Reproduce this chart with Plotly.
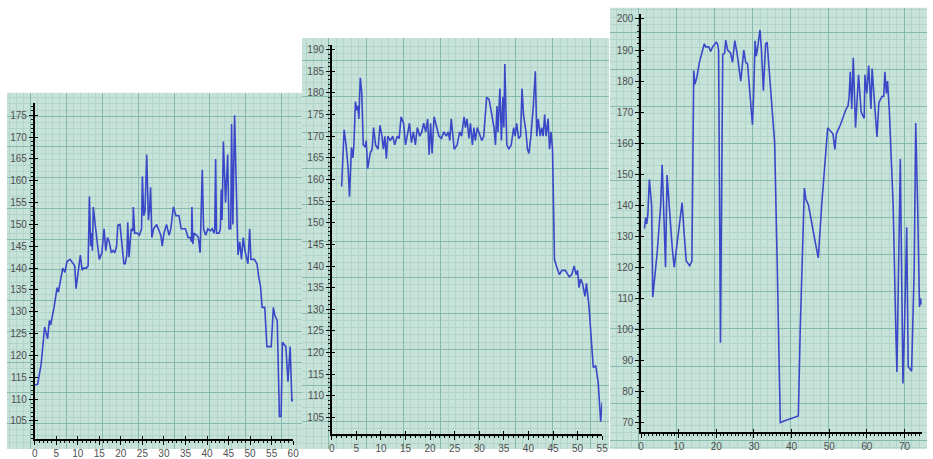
import plotly.graph_objects as go

W, H = 933, 459

# ---------------- data ----------------
x1 = [0, 0.7, 1.5, 2.3, 2.7, 3.0, 3.4, 3.7, 4.5, 5.2, 5.5, 6.0, 6.5, 7.0, 7.5, 8.2, 8.8, 9.3, 9.6, 10.0,
      10.6, 11.0, 11.3, 12.0, 12.4, 12.7, 13.0, 13.2, 13.4, 13.6, 14.0, 14.5, 15.0, 15.6, 16.1, 16.5, 16.9,
      17.3, 17.8, 18.2, 18.6, 19.0, 19.3, 19.8, 20.2, 20.7, 21.0, 21.4, 21.6, 21.9, 22.4, 22.8, 22.9, 23.2,
      23.8, 24.3, 24.8, 25.0, 25.3, 25.6, 26.0, 26.4, 26.7, 26.9, 27.2, 27.6, 28.3, 29.0, 29.3, 29.6, 30.0,
      30.6, 31.2, 31.6, 32.2, 32.8, 33.5, 34.0, 35.0, 35.6, 36.1, 36.4, 36.5, 36.7, 37.0, 37.6, 38.0, 38.4,
      38.9, 39.2, 39.7, 40.2, 40.7, 41.2, 41.6, 41.8, 42.0, 42.2, 42.8, 43.1, 43.3, 43.5, 43.8, 44.3, 44.8,
      45.1, 45.5, 45.7, 46.0, 46.4, 46.8, 47.0, 47.2, 47.6, 48.0, 48.4, 48.8, 49.2, 49.5, 49.9, 50.2, 51.0,
      51.6, 52.0, 52.4, 52.8, 53.4, 53.9, 54.9, 55.4, 55.8, 56.3, 56.8, 57.2, 57.5, 58.3, 58.8, 59.3, 59.7, 60.0]
y1 = [113.2, 113.4, 118, 126.5, 125, 123.8, 128, 127, 131, 135.5, 134.5, 137, 140, 139, 141.5, 142, 141, 140.5, 135.3, 139,
      143, 139.5, 140, 140, 140.5, 156.4, 145, 148, 144, 154, 150, 146, 142, 143.5, 149, 144, 147,
      146, 143.5, 144, 143.5, 145, 149.8, 150, 146, 141, 141, 143, 150.5, 142.5, 149, 148.5, 154, 148,
      148, 147.5, 149, 161, 152, 153, 166, 151, 154, 158.5, 147, 149, 150, 148, 147.5, 145, 148,
      150, 147.5, 149, 154, 152, 152, 149, 149, 147, 147, 146, 154, 145.5, 148, 147.5, 147, 143.5,
      162.5, 149, 147.5, 149, 148.5, 149, 148, 149, 165, 148, 148, 149, 158, 151, 169, 155, 166,
      149, 149, 173, 150, 175, 153, 150, 143, 146, 142, 147, 144, 142, 141, 149, 142, 142,
      141, 138, 136, 131, 131, 122, 122, 131, 129, 128, 106, 106, 123, 122, 114, 122, 109.5, 110]

x2 = [2.0, 2.5, 2.9, 3.3, 3.6, 4.0, 4.3, 4.5, 4.8, 5.1, 5.3, 5.5, 5.8, 6.1, 6.4, 6.8, 7.0, 7.3, 7.8, 8.2,
      8.5, 8.9, 9.4, 9.8, 10.2, 10.5, 10.8, 11.1, 11.4, 11.9, 12.4, 12.8, 13.3, 13.7, 14.1, 14.6, 15.0, 15.4,
      15.8, 16.2, 16.6, 17.0, 17.4, 17.9, 18.3, 18.7, 19.1, 19.5, 19.8, 20.1, 20.4, 20.8, 21.3, 21.8, 22.3,
      22.8, 23.3, 23.7, 24.0, 24.3, 24.9, 25.5, 26.0, 26.4, 26.9, 27.2, 27.5, 27.9, 28.2, 28.6, 28.9, 29.2,
      29.6, 30.1, 30.5, 30.9, 31.2, 31.5, 32.0, 32.5, 33.0, 33.3, 33.6, 33.8, 34.2, 34.5, 34.8, 35.0, 35.2,
      35.6, 36.0, 36.5, 37.0, 37.3, 37.6, 38.0, 38.4, 38.7, 39.0, 39.5, 39.8, 40.1, 40.5, 41.0, 41.4, 41.7,
      42.0, 42.4, 42.7, 43.0, 43.3, 43.6, 44.0, 44.3, 44.6, 44.9, 45.3, 45.7, 46.3, 46.8, 47.5, 48.3, 48.8,
      49.3, 49.7, 50.0, 50.3, 50.6, 51.0, 51.5, 51.8, 52.3, 52.7, 53.2, 53.7, 54.2, 54.7, 55.0]
y2 = [158.4, 171.5, 168, 163, 156, 167.4, 165, 168, 178, 176, 177, 174, 183.5, 180, 168, 167.5, 169, 162.5, 166, 167,
      172, 168, 167, 172.5, 170, 167, 170, 164.8, 170, 169, 170, 168, 170, 169.5, 174.5, 173, 168, 171,
      173, 168.5, 171, 168, 172, 170, 171, 173, 171, 174, 165.7, 173, 166, 174.5, 172, 170, 169.5,
      171, 170, 171, 169, 174, 167, 168, 171, 170, 174.5, 172, 174, 169.5, 173, 168, 172, 169,
      172, 170, 169, 170, 176, 179, 178.5, 175, 172, 168, 177, 171, 181, 169, 179, 172, 186.7,
      168, 167, 168, 172, 170, 173, 169.5, 170, 181, 175, 171, 167, 166, 170, 177, 185, 170,
      174, 170, 172, 170, 175, 170, 174, 167, 171, 167, 141.5, 140, 138, 139, 139, 137.5, 138,
      140, 138, 139, 135, 137, 136, 133, 136, 131, 125, 116.5, 117, 113, 104, 108.5]

x3 = [0.9, 1.2, 1.5, 1.8, 2.2, 2.4, 2.8, 3.1, 4.3, 5.2, 5.6, 6.1, 6.5, 6.9, 7.5, 8.3, 8.8, 9.6, 10.3, 10.9,
      11.5, 12.0, 12.9, 13.5, 14.0, 14.3, 14.8, 15.5, 16.8, 17.2, 18.0, 18.5, 19.0, 20.0, 20.3, 20.6, 21.1,
      21.7, 22.2, 22.5, 23.0, 23.8, 24.3, 24.9, 25.5, 26.5, 27.3, 27.8, 28.3, 29.6, 29.9, 30.3, 30.6, 30.9,
      31.6, 32.0, 32.5, 33.1, 33.5, 34.5, 35.5, 36.2, 37.0, 38.0, 41.8, 42.3, 43.0, 43.4, 43.8, 44.5, 46.0,
      47.1, 48.0, 49.0, 49.6, 51.0, 51.5, 51.9, 53.0, 54.5, 55.0, 55.3, 55.6, 56.0, 56.4, 57.0, 57.8, 58.5,
      59.3, 59.5, 60.0, 60.5, 61.1, 61.4, 62.0, 62.7, 63.2, 64.0, 64.5, 64.8, 65.2, 65.5, 66.0, 67.0, 67.7,
      68.0, 68.9, 69.2, 69.6, 70.0, 70.6, 71.0, 71.5, 71.9, 72.6, 73.0, 73.5, 74.0, 74.3, 74.5]
y3 = [132.5, 136, 134, 137, 148.3, 146, 140, 110.4, 125, 140, 153, 135, 120, 149.7, 138, 126, 120, 128, 134, 140.8,
      130, 122, 120.5, 122, 183.4, 179, 181, 186, 192, 191, 191, 189.5, 191, 192.5, 192, 190, 95.7,
      188.5, 189, 193.2, 190, 189, 186, 193, 189, 180, 190, 186, 185.5, 165.9, 175, 193, 188, 190,
      196.5, 190, 176.9, 192, 192.5, 175, 160, 120, 70, 70.5, 72.1, 100, 130, 145.5, 142, 140, 130,
      123, 140, 155, 164.9, 163, 158, 163, 166, 171, 172, 175, 183, 171, 187.5, 165, 182, 170,
      168, 182, 176, 185, 171, 184, 175, 162, 173, 175, 175, 183, 176, 180, 170, 140, 100,
      86.3, 154.9, 120, 82.6, 100, 132.9, 88, 87, 86.5, 120, 166.5, 140, 107.2, 110, 108]

xt1 = list(range(0, 61, 5))
yt1 = list(range(105, 176, 5))
xt2 = list(range(0, 56, 5))
yt2 = list(range(105, 191, 5))
xt3 = list(range(0, 71, 10))
yt3 = list(range(70, 201, 10))

# ---------------- styling ----------------
BG = "#c6e2d9"
MINOR = "#b2d5ca"
MAJOR = "#88b9ae"
LINE = "#3a48c8"
FONT = dict(family="Liberation Sans, Arial, sans-serif", size=10, color="#505050")


def fx(px):
    return px / W


def fy(py):
    return 1 - py / H


# panel backgrounds (pixel boxes) and graph-paper grid spacing
panels = [
    dict(box=(4, 94, 302, 459), gx=(24, 36.2), gy=(24, 31.5)),
    dict(box=(302, 38, 612, 459), gx=(27, 37.7), gy=(23, 37)),
    dict(box=(613, 7, 933, 459), gx=(29, 38.3), gy=(25, 38)),
]

# data-axis placement: (x_left_px, x_right_px, xrange, y_top_px, y_bottom_px, yrange)
axes_pos = [
    (32, 293, [0, 60], 105, 449, [100.8, 177.7], xt1, yt1, 1, 1),
    (332, 605, [0, 55], 45, 444, [101.1, 191.1], xt2, yt2, 1, 1),
    (644.3, 927.7, [0, 74.6], 13, 442, [66.8, 201.7], xt3, yt3, 1, 2),
]

fig = go.Figure()
layout = dict(
    width=W, height=H, margin=dict(l=0, r=0, t=0, b=0),
    paper_bgcolor="white", plot_bgcolor="rgba(0,0,0,0)",
    showlegend=False, shapes=[],
)

# grid subplots (1..3)
for i, p in enumerate(panels, start=1):
    l, t, r, b = p["box"]
    layout["shapes"].append(dict(type="rect", xref="paper", yref="paper",
                                 x0=fx(l), x1=fx(r), y0=fy(b), y1=fy(t),
                                 fillcolor=BG, line=dict(width=0), layer="below"))
    sx = "" if i == 1 else str(i)
    t0x, dx = p["gx"]
    t0y, dy = p["gy"]
    layout["xaxis" + sx] = dict(domain=[fx(l), fx(r)], range=[0, r - l], anchor="y" + sx,
                                showgrid=True, gridcolor=MAJOR, gridwidth=1, tick0=t0x, dtick=dx,
                                minor=dict(showgrid=True, gridcolor=MINOR, gridwidth=1, tick0=t0x, dtick=dx / 5),
                                showticklabels=False, ticks="", zeroline=False, showline=False, fixedrange=True)
    layout["yaxis" + sx] = dict(domain=[fy(b), fy(t)], range=[b - t, 0], anchor="x" + sx,
                                showgrid=True, gridcolor=MAJOR, gridwidth=1, tick0=t0y, dtick=dy,
                                minor=dict(showgrid=True, gridcolor=MINOR, gridwidth=1, tick0=t0y, dtick=dy / 5),
                                showticklabels=False, ticks="", zeroline=False, showline=False, fixedrange=True)
    fig.add_trace(go.Scatter(x=[], y=[], xaxis="x" + sx, yaxis="y" + sx, hoverinfo="skip"))

# data subplots (4..6) + overlay axes (7..9) giving inside major ticks so they cross the axis line
series = [(x1, y1), (x2, y2), (x3, y3)]
for k, (pos, (xs, ys)) in enumerate(zip(axes_pos, series)):
    i = k + 4
    j = k + 7
    xl, xr, xrng, yt, yb, yrng, xtv, ytv, xminor, yminor = pos
    tickstyle = dict(tickwidth=1.3, tickcolor="black")
    minor_x = dict(ticks="outside", ticklen=2, tickwidth=1.2, tickcolor="#111", dtick=xminor, tick0=0, showgrid=False)
    minor_y = dict(ticks="outside", ticklen=2, tickwidth=1.2, tickcolor="#111", dtick=yminor, tick0=0, showgrid=False)
    layout["xaxis%d" % i] = dict(domain=[fx(xl), fx(xr)], range=xrng, anchor="y%d" % i,
                                 tickvals=xtv, ticktext=[str(v) for v in xtv],
                                 showgrid=False, zeroline=False, showline=True, linecolor="black", linewidth=1.5,
                                 ticks="outside", ticklen=4, **tickstyle, minor=minor_x,
                                 tickfont=FONT, fixedrange=True)
    layout["yaxis%d" % i] = dict(domain=[fy(yb), fy(yt)], range=yrng, anchor="x%d" % i,
                                 tickvals=ytv, ticktext=[str(v) for v in ytv],
                                 showgrid=False, zeroline=False, showline=True, linecolor="black", linewidth=1.5,
                                 ticks="outside", ticklen=4, **tickstyle, minor=minor_y,
                                 tickfont=FONT, fixedrange=True)
    layout["xaxis%d" % j] = dict(overlaying="x%d" % i, anchor="y%d" % i, side="bottom", range=xrng,
                                 tickvals=xtv, showticklabels=False, showgrid=False, zeroline=False,
                                 showline=False, ticks="inside", ticklen=3, **tickstyle, fixedrange=True)
    layout["yaxis%d" % j] = dict(overlaying="y%d" % i, anchor="x%d" % i, side="left", range=yrng,
                                 tickvals=ytv, showticklabels=False, showgrid=False, zeroline=False,
                                 showline=False, ticks="inside", ticklen=3, **tickstyle, fixedrange=True)
    fig.add_trace(go.Scatter(x=[], y=[], xaxis="x%d" % j, yaxis="y%d" % i, hoverinfo="skip"))
    fig.add_trace(go.Scatter(x=[], y=[], xaxis="x%d" % i, yaxis="y%d" % j, hoverinfo="skip"))
    fig.add_trace(go.Scatter(x=xs, y=ys, mode="lines", xaxis="x%d" % i, yaxis="y%d" % i,
                             line=dict(color=LINE, width=1.6), hoverinfo="skip"))

fig.update_layout(**layout)
fig.write_html("out.html", config={"displayModeBar": False},
               post_script="document.body.style.margin='0';document.body.style.overflow='hidden';")
